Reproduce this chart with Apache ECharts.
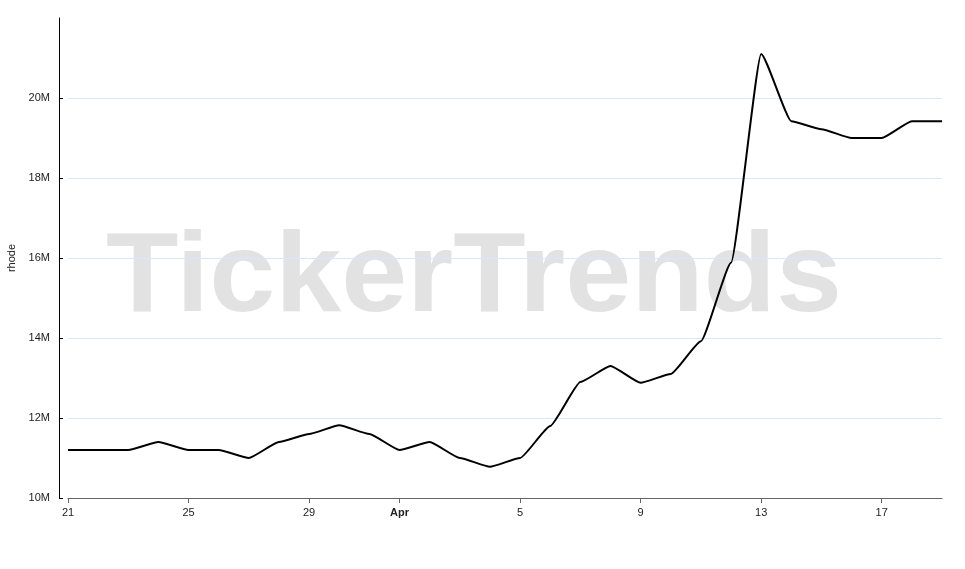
<!DOCTYPE html>
<html>
<head>
<meta charset="utf-8">
<script src="https://cdn.jsdelivr.net/npm/echarts@6/dist/echarts.min.js"></script>
<style>html,body{margin:0;padding:0;background:#fff}#c{width:965px;height:569px}</style>
</head>
<body>
<div id="c"></div>
<script>
const categories = ['03-21','03-22','03-23','03-24','03-25','03-26','03-27','03-28','03-29','03-30','03-31',
  '04-01','04-02','04-03','04-04','04-05','04-06','04-07','04-08','04-09','04-10','04-11','04-12','04-13',
  '04-14','04-15','04-16','04-17','04-18','04-19'];
const values = [11.2,11.2,11.2,11.4,11.2,11.2,11.0,11.4,11.6,11.82,11.6,
  11.2,11.4,11.0,10.78,11.0,11.8,12.9,13.3,12.88,13.1,13.92,15.88,21.1,
  19.42,19.22,19.0,19.0,19.42,19.42].map(v => v * 1e6);
const labelCats = ['03-21','03-25','03-29','04-01','04-05','04-09','04-13','04-17'];
const tickLabels = ['21','25','29','Apr','5','9','13','17'];
const yTicks = [10e6, 12e6, 14e6, 16e6, 18e6, 20e6, 22e6];
const yName = 'rhode';
const watermark = 'TickerTrends';

const font = '"Liberation Sans", Arial, Helvetica, sans-serif';
const chart = echarts.init(document.getElementById('c'), null, {renderer: 'canvas'});
chart.setOption({
  animation: false,
  backgroundColor: '#fff',
  graphic: [{
    type: 'text', z: -10,
    position: [474, 280], scaleX: 1.04,
    style: {
      text: watermark, fontSize: 114, fontWeight: 'bold', fontFamily: font,
      fill: '#e2e2e2', textAlign: 'center', textVerticalAlign: 'middle'
    }
  }],
  grid: {left: 68, right: 23, top: 18, bottom: 71, containLabel: false, outerBoundsMode: 'none'},
  xAxis: {
    type: 'category', data: categories, boundaryGap: false,
    axisLine: {lineStyle: {color: '#666', width: 1}},
    axisTick: {length: 5, lineStyle: {color: '#666'}, interval: (i, v) => labelCats.includes(v)},
    axisLabel: {
      interval: (i, v) => labelCats.includes(v),
      color: '#222', fontSize: 11, fontFamily: font, margin: 9,
      formatter: v => { const t = tickLabels[labelCats.indexOf(v)]; return t === 'Apr' ? '{b|Apr}' : t; },
      rich: {b: {fontWeight: 'bold', fontSize: 11, fontFamily: font, color: '#222'}}
    },
    splitLine: {show: false}
  },
  yAxis: {
    type: 'value', min: yTicks[0], max: yTicks[yTicks.length - 1], interval: 2e6,
    offset: 9,
    name: yName, nameLocation: 'middle', nameRotate: 90, nameGap: 39,
    nameTextStyle: {color: '#222', fontSize: 11, fontFamily: font},
    axisLine: {show: true, lineStyle: {color: '#000', width: 1}},
    axisTick: {show: true, inside: true, length: 4, lineStyle: {color: '#000'}},
    axisLabel: {
      color: '#222', fontSize: 11, fontFamily: font, margin: 9, showMaxLabel: false,
      formatter: v => (v === yTicks[yTicks.length - 1] ? '' : (v / 1e6) + 'M')
    },
    splitLine: {show: true, showMaxLine: false, showMinLine: false, lineStyle: {color: '#dfe5f2', width: 1}}
  },
  series: [{
    type: 'line', data: values, symbol: 'none', smooth: 0.15, smoothMonotone: 'x',
    lineStyle: {color: '#000', width: 2}, z: 5
  }]
});
</script>
</body>
</html>
